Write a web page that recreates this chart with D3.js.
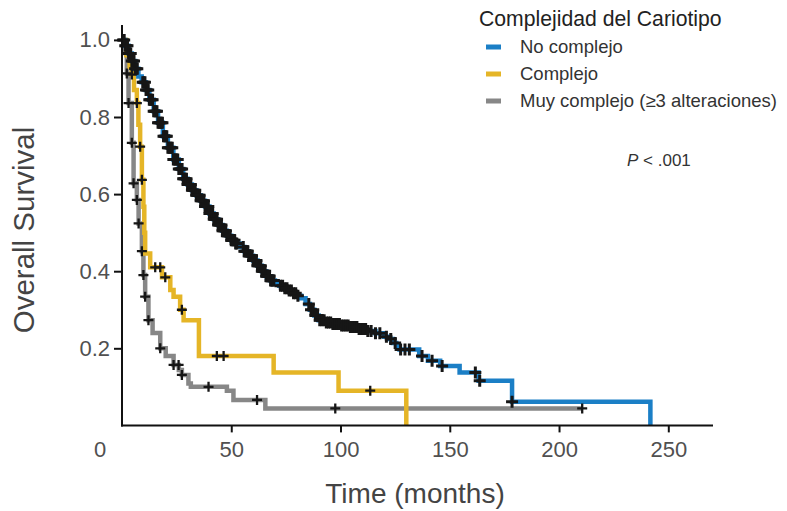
<!DOCTYPE html>
<html>
<head>
<meta charset="utf-8">
<script src="https://cdn.jsdelivr.net/npm/d3@7"></script>
<style>
  body { margin: 0; background: #fff; }
  svg { display: block; }
  text { font-family: 'Liberation Sans', Arial, sans-serif; }
</style>
</head>
<body>
<div id="chart"></div>
<script>
// Kaplan-Meier steps: [months, survival]
const noComplejo = [
  [0, 1.0], [1.5, 0.985], [3, 0.965], [4.5, 0.945], [6, 0.925], [7.5, 0.905], [9, 0.89],
  [10.8, 0.87], [12.5, 0.845], [14.5, 0.815], [16.5, 0.785], [18.7, 0.75], [21, 0.72],
  [23.5, 0.69], [26, 0.665], [28, 0.64], [30, 0.625], [32, 0.61], [34, 0.597], [36, 0.583],
  [38, 0.568], [40, 0.55], [42, 0.535], [44, 0.52], [46, 0.505], [48, 0.492], [50, 0.48],
  [52, 0.472], [54, 0.463], [56, 0.452], [58, 0.44], [60, 0.428], [62, 0.414], [64, 0.4],
  [66, 0.387], [68, 0.376], [70, 0.368], [72, 0.362], [74, 0.356], [76, 0.35], [78, 0.343],
  [80, 0.336], [82, 0.33], [84, 0.315], [86, 0.3], [88, 0.285], [90, 0.273], [93, 0.267],
  [96, 0.263], [100, 0.259], [104, 0.255], [108, 0.25], [112, 0.245], [116, 0.239],
  [120, 0.23], [122, 0.224], [124, 0.214], [125.5, 0.205], [127, 0.197], [136, 0.18],
  [140, 0.168], [145.6, 0.154], [154.5, 0.137], [163.2, 0.116], [178.5, 0.0615], [241.8, 0]
];
const complejo = [
  [0, 1.0], [2, 0.96], [3.5, 0.93], [4.5, 0.91], [5.5, 0.87], [6.8, 0.836], [7.5, 0.78],
  [8.3, 0.723], [9.1, 0.637], [9.8, 0.567], [10.2, 0.5], [10.6, 0.446], [12.9, 0.41],
  [18.3, 0.384], [22.1, 0.351], [23.6, 0.334], [26.6, 0.3], [28.2, 0.273], [35.2, 0.18],
  [69.4, 0.137], [99.1, 0.09], [130.1, 0]
];
const muyComplejo = [
  [0, 1.0], [1.5, 0.966], [2.2, 0.913], [3, 0.836], [4.5, 0.733], [5.3, 0.628], [6.8, 0.585],
  [7.6, 0.524], [9.1, 0.452], [9.8, 0.39], [10.6, 0.334], [12.1, 0.273], [14, 0.24],
  [17.5, 0.2], [20, 0.18], [23.6, 0.157], [26, 0.144], [27.4, 0.131], [30.4, 0.109],
  [31.5, 0.1], [48, 0.09], [51, 0.066], [65.6, 0.044], [210.6, 0.044]
];

// censored observations (months)
const censNoComplejo = [
  0.5, 1, 1.5, 2, 2.5, 3, 3.5, 4, 4.5, 5, 5.5, 6, 6.5, 7,
  9.5, 10, 10.5, 11, 11.5, 12, 12.5, 13, 13.5, 14, 14.5, 15, 15.5, 16, 16.5, 17, 17.5, 18, 18.5, 19, 19.5, 20,
  20.5, 21, 21.5, 22, 22.5, 23, 23.5, 24, 24.5, 25, 25.5, 26, 26.5, 27, 27.5, 28, 28.5, 29, 29.5, 30,
  30.5, 31, 31.5, 32, 32.5, 33, 33.5, 34, 34.5, 35, 35.5, 36, 36.5, 37, 37.5, 38, 38.5, 39, 39.5, 40,
  40.5, 41, 41.5, 42, 42.5, 43, 43.5, 44, 44.5, 45, 45.5, 46, 46.5, 47, 47.5, 48, 48.5, 49, 49.5, 50,
  50.5, 51, 51.5, 52, 52.5,
  55.5, 56, 56.5, 57, 57.5, 58, 58.5, 59, 59.5, 60, 60.5, 61, 61.5, 62, 62.5, 63, 63.5, 64, 64.5, 65,
  65.5, 66, 66.5, 67, 67.5, 68, 68.5, 69, 69.5,
  72.5, 73.5, 74.5, 75.5, 76.5, 77.5, 78.5, 79.5, 80.5,
  85.5, 86.5, 87.5, 88.5, 89.5, 90.5, 91.5, 92.5, 93.5, 94.5, 95.5, 96.5, 97.5, 98.5, 99.5, 100.5,
  101.5, 102.5, 103.5, 104.5, 105.5, 106.5, 107.5, 108.5, 109.5, 110.5, 111.5, 112.5, 114, 116, 118,
  121, 123, 125,
  127.5, 129.5, 131.5, 137.3, 141.9, 146.5, 161.7, 163.7, 178.5
];
const censComplejo = [4.5, 6.8, 8.3, 9.1, 15.2, 17.5, 19.8, 27.4, 43.4, 46.5, 113.6];
const censMuyComplejo = [2.2, 3, 4.5, 5.3, 6.8, 7.6, 9.1, 9.8, 10.6, 12.1, 17.5, 23.6, 25.9, 27.4, 39.6, 61.8, 97.6, 210.6];

const groups = ['No complejo', 'Complejo', 'Muy complejo (≥3 alteraciones)'];
const colors = ['#1b7fc6', '#e5b527', '#878787'];
const xTicks = [50, 100, 150, 200, 250];
const yTicks = [0.2, 0.4, 0.6, 0.8, 1.0];

const width = 787;
const height = 511;

const svg = d3.select('#chart')
  .append('svg')
  .attr('width', width)
  .attr('height', height);

const x = d3.scaleLinear().domain([0, 270]).range([122, 712]);
const y = d3.scaleLinear().domain([0, 1]).range([425.4, 39.9]);

function survAt(steps, t) {
  let s = 1;
  steps.forEach(d => { if (d[0] <= t) s = d[1]; });
  return s;
}

const line = d3.line()
  .x(d => x(d[0]))
  .y(d => y(d[1]))
  .curve(d3.curveStepAfter);

// curves, grey first so blue sits on top
const curves = [muyComplejo, complejo, noComplejo];
const curveColors = [colors[2], colors[1], colors[0]];
curves.forEach((c, i) => {
  svg.append('path')
    .datum(c)
    .attr('fill', 'none')
    .attr('stroke', curveColors[i])
    .attr('stroke-width', 4.5)
    .attr('d', line);
});

// censor marks
const cens = [
  { steps: muyComplejo, times: censMuyComplejo, r: 5, w: 2.3 },
  { steps: complejo, times: censComplejo, r: 5, w: 2.3 },
  { steps: noComplejo, times: censNoComplejo, r: 6, w: 3 }
];
cens.forEach(c => {
  svg.append('g')
    .selectAll('path')
    .data(c.times)
    .join('path')
    .attr('transform', t => 'translate(' + x(t) + ',' + y(survAt(c.steps, t)) + ')')
    .attr('d', 'M-' + c.r + ',0H' + c.r + 'M0,-' + c.r + 'V' + c.r)
    .attr('stroke', '#161616')
    .attr('stroke-width', c.w);
});

// axes
const yAxis = svg.append('g')
  .attr('transform', 'translate(' + x(0) + ',0)')
  .call(d3.axisLeft(y).tickValues(yTicks).tickSize(8).tickSizeOuter(0).tickPadding(4)
    .tickFormat(d3.format('.1f')));
yAxis.select('.domain').remove();
yAxis.selectAll('line').attr('stroke', '#111').attr('stroke-width', 2);
yAxis.selectAll('text')
  .attr('font-family', null)
  .attr('font-size', 22)
  .attr('fill', '#505050');

const xAxis = svg.append('g')
  .attr('transform', 'translate(0,' + y(0) + ')')
  .call(d3.axisBottom(x).tickValues(xTicks).tickSize(7).tickSizeOuter(0).tickPadding(9));
xAxis.select('.domain').remove();
xAxis.selectAll('line').attr('stroke', '#111').attr('stroke-width', 2);
xAxis.selectAll('text')
  .attr('font-family', null)
  .attr('font-size', 22)
  .attr('fill', '#505050');

svg.append('text')
  .attr('x', x(0) - 22)
  .attr('y', y(0) + 16)
  .attr('dy', '0.71em')
  .attr('text-anchor', 'middle')
  .attr('font-size', 22)
  .attr('fill', '#505050')
  .text('0');

svg.append('line')
  .attr('x1', x(0)).attr('x2', x(0))
  .attr('y1', 25).attr('y2', y(0) + 1)
  .attr('stroke', '#111').attr('stroke-width', 2);
svg.append('line')
  .attr('x1', x(0) - 1).attr('x2', 713)
  .attr('y1', y(0)).attr('y2', y(0))
  .attr('stroke', '#111').attr('stroke-width', 2);

// axis titles
svg.append('text')
  .attr('transform', 'translate(34,230) rotate(-90)')
  .attr('text-anchor', 'middle')
  .attr('font-size', 29.5)
  .attr('fill', '#444')
  .text('Overall Survival');

svg.append('text')
  .attr('x', 415)
  .attr('y', 503)
  .attr('text-anchor', 'middle')
  .attr('font-size', 28)
  .attr('fill', '#444')
  .text('Time (months)');

// legend
svg.append('text')
  .attr('x', 479)
  .attr('y', 26)
  .attr('font-size', 21.2)
  .attr('fill', '#222')
  .text('Complejidad del Cariotipo');

const legend = svg.append('g')
  .selectAll('g')
  .data(groups)
  .join('g')
  .attr('transform', (d, i) => 'translate(486,' + (47 + i * 27) + ')');
legend.append('line')
  .attr('x1', 0).attr('x2', 15)
  .attr('stroke', (d, i) => colors[i])
  .attr('stroke-width', 5);
legend.append('text')
  .attr('x', 34)
  .attr('dy', '0.35em')
  .attr('font-size', 18.5)
  .attr('fill', '#333')
  .text(d => d);

const p = svg.append('text')
  .attr('x', 627)
  .attr('y', 166)
  .attr('font-size', 17)
  .attr('fill', '#333');
p.append('tspan').attr('font-style', 'italic').text('P');
p.append('tspan').text(' < .001');
</script>
</body>
</html>
